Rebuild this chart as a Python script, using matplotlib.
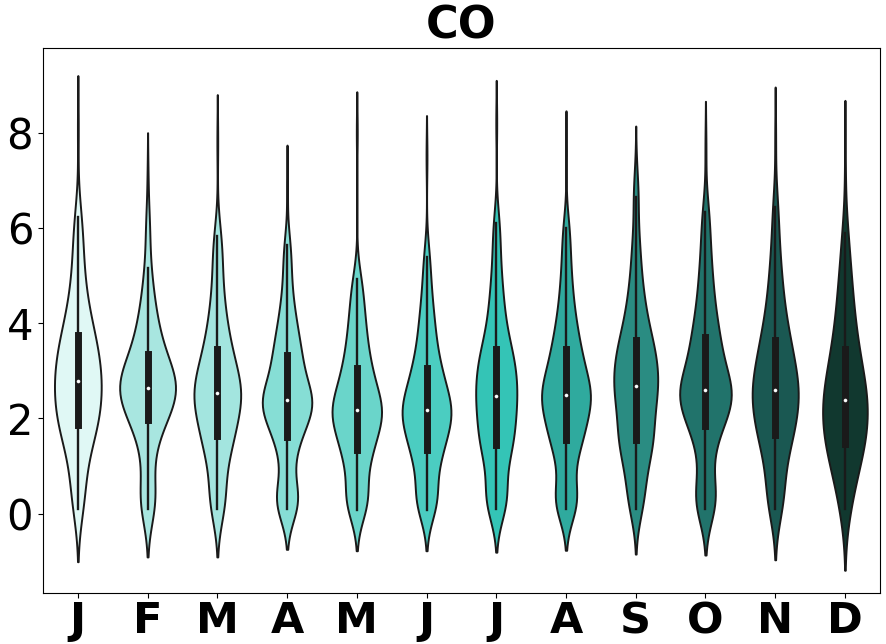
#CO monthly violins

#import
import numpy as np
import pandas as pd
import seaborn as sns
import matplotlib
matplotlib.use("Agg")
import matplotlib.pyplot as plt

month_labels = ['J', 'F', 'M', 'A', 'M', 'J', 'J', 'A', 'S', 'O', 'N', 'D']

# hand read CO values per month (sorted quantile points, last one = single max outlier)
co_jan = [0.09, 0.3, 0.6, 0.9, 1.2, 1.4, 1.55, 1.7, 1.8, 1.86,
          1.95, 2.05, 2.15, 2.25, 2.35, 2.45, 2.55, 2.62, 2.7, 2.78,
          2.85, 2.95, 3.05, 3.15, 3.25, 3.35, 3.45, 3.55, 3.65, 3.75,
          3.9, 4.05, 4.25, 4.45, 4.7, 5.0, 5.4, 5.8, 6.23, 8.1]
co_feb = [0.09, 0.2, 0.3, 0.45, 0.9, 1.3, 1.55, 1.75, 1.88, 1.96,
          2.05, 2.15, 2.25, 2.33, 2.4, 2.46, 2.52, 2.57, 2.61, 2.64,
          2.67, 2.72, 2.78, 2.85, 2.92, 3.0, 3.08, 3.17, 3.26, 3.35,
          3.5, 3.65, 3.8, 3.95, 4.15, 4.4, 4.7, 5.15, 6.0, 7.0]
co_mar = [0.09, 0.2, 0.3, 0.5, 0.9, 1.15, 1.3, 1.45, 1.55, 1.62,
          1.72, 1.85, 1.97, 2.08, 2.18, 2.27, 2.35, 2.42, 2.48, 2.53,
          2.56, 2.62, 2.7, 2.8, 2.9, 3.0, 3.1, 3.2, 3.32, 3.45,
          3.6, 3.75, 3.95, 4.15, 4.4, 4.7, 5.1, 5.5, 5.83, 7.8]
co_apr = [0.09, 0.15, 0.22, 0.28, 0.4, 0.65, 1.0, 1.3, 1.5, 1.6,
          1.72, 1.84, 1.95, 2.05, 2.13, 2.2, 2.26, 2.31, 2.35, 2.38,
          2.41, 2.47, 2.55, 2.65, 2.77, 2.9, 3.02, 3.13, 3.24, 3.34,
          3.48, 3.62, 3.78, 3.95, 4.15, 4.4, 4.75, 5.2, 5.64, 6.9]
co_may = [0.08, 0.18, 0.25, 0.32, 0.45, 0.75, 1.0, 1.15, 1.27, 1.34,
          1.45, 1.57, 1.68, 1.78, 1.87, 1.95, 2.02, 2.08, 2.13, 2.17,
          2.2, 2.26, 2.34, 2.43, 2.53, 2.63, 2.73, 2.84, 2.95, 3.05,
          3.2, 3.35, 3.52, 3.7, 3.9, 4.1, 4.35, 4.65, 4.92, 8.0]
co_jun = [0.08, 0.18, 0.26, 0.34, 0.5, 0.8, 1.02, 1.17, 1.27, 1.34,
          1.45, 1.56, 1.67, 1.77, 1.86, 1.94, 2.01, 2.07, 2.12, 2.17,
          2.2, 2.27, 2.35, 2.44, 2.54, 2.64, 2.74, 2.85, 2.95, 3.05,
          3.2, 3.37, 3.55, 3.75, 3.97, 4.2, 4.5, 4.9, 5.4, 7.5]
co_jul = [0.09, 0.18, 0.26, 0.35, 0.55, 0.85, 1.1, 1.25, 1.37, 1.45,
          1.55, 1.66, 1.77, 1.88, 1.99, 2.1, 2.2, 2.3, 2.4, 2.48,
          2.55, 2.65, 2.75, 2.85, 2.95, 3.05, 3.15, 3.25, 3.35, 3.45,
          3.6, 3.78, 3.98, 4.2, 4.45, 4.75, 5.1, 5.6, 6.1, 8.2]
co_aug = [0.09, 0.17, 0.24, 0.32, 0.48, 0.85, 1.15, 1.35, 1.47, 1.55,
          1.66, 1.78, 1.9, 2.0, 2.1, 2.2, 2.28, 2.36, 2.43, 2.49,
          2.53, 2.6, 2.68, 2.77, 2.87, 2.98, 3.1, 3.22, 3.34, 3.45,
          3.6, 3.77, 3.95, 4.15, 4.4, 4.7, 5.05, 5.5, 6.0, 7.6]
co_sep = [0.09, 0.25, 0.45, 0.7, 0.95, 1.15, 1.3, 1.42, 1.5, 1.55,
          1.68, 1.82, 1.95, 2.08, 2.2, 2.32, 2.43, 2.53, 2.62, 2.69,
          2.75, 2.85, 2.95, 3.05, 3.15, 3.25, 3.35, 3.45, 3.55, 3.64,
          3.8, 3.97, 4.15, 4.35, 4.6, 4.9, 5.3, 5.8, 6.65, 7.2]
co_oct = [0.09, 0.18, 0.26, 0.35, 0.55, 0.95, 1.3, 1.55, 1.72, 1.84,
          1.95, 2.06, 2.16, 2.25, 2.33, 2.4, 2.46, 2.51, 2.56, 2.6,
          2.65, 2.73, 2.83, 2.95, 3.08, 3.2, 3.33, 3.46, 3.59, 3.72,
          3.88, 4.05, 4.25, 4.5, 4.75, 5.05, 5.4, 5.85, 6.34, 7.7]
co_nov = [0.09, 0.22, 0.38, 0.6, 0.9, 1.15, 1.35, 1.5, 1.6, 1.66,
          1.77, 1.89, 2.0, 2.11, 2.21, 2.3, 2.39, 2.47, 2.54, 2.6,
          2.66, 2.75, 2.85, 2.96, 3.07, 3.18, 3.3, 3.41, 3.53, 3.64,
          3.8, 3.97, 4.17, 4.4, 4.65, 4.95, 5.3, 5.8, 6.44, 7.9]
co_dec = [0.09, 0.3, 0.55, 0.8, 1.0, 1.15, 1.27, 1.36, 1.42, 1.46,
          1.56, 1.67, 1.78, 1.88, 1.98, 2.08, 2.17, 2.25, 2.32, 2.38,
          2.42, 2.5, 2.6, 2.71, 2.83, 2.95, 3.07, 3.19, 3.32, 3.45,
          3.62, 3.8, 4.0, 4.22, 4.46, 4.72, 5.0, 5.4, 5.9, 7.4]

# style per violin
month_colors = ['#e0f8f5', '#a8e6e0', '#a3e5df', '#86ded5', '#6ad5ca', '#4bcdc1',
                '#34c4b6', '#2faa9e', '#2a8c82', '#21736b', '#1a5852', '#11382f']
kde_bw = [0.55, 0.50, 0.50, 0.42, 0.43, 0.43, 0.45, 0.43, 0.47, 0.48, 0.53, 0.64]
violin_w = [0.67, 0.80, 0.67, 0.71, 0.71, 0.70, 0.59, 0.70, 0.63, 0.74, 0.66, 0.64]


def main():
    all_months = [co_jan, co_feb, co_mar, co_apr, co_may, co_jun,
                  co_jul, co_aug, co_sep, co_oct, co_nov, co_dec]
    keys = ['m%d' % (i + 1) for i in range(12)]

    fig = plt.figure(figsize=(8.86, 6.44), dpi=100)
    ax = fig.add_subplot(111)
    fig.subplots_adjust(left=0.0485, right=0.993, top=0.9255, bottom=0.079)

    for i, vals in enumerate(all_months):
        # quantile points weigh 4, the single max weighs 1
        counts = [4] * (len(vals) - 1) + [1]
        v = np.repeat(vals, counts)
        df = pd.DataFrame({'month': keys[i], 'co': v})
        sns.violinplot(data=df, x='month', y='co', order=keys,
                       color=month_colors[i], saturation=1,
                       bw_method=kde_bw[i] / np.std(v, ddof=1), cut=2,
                       width=violin_w[i], linewidth=1.4, linecolor='#1a1a1a',
                       inner='box',
                       inner_kws=dict(box_width=5, whis_width=1.7,
                                      color='#1a1a1a', marker='o',
                                      markersize=2.2, markeredgewidth=0.4),
                       ax=ax)

    ax.set_xlim(-0.5, 11.5)
    ax.set_ylim(-1.67, 9.78)
    ax.set_xticks(range(12))
    ax.set_xticklabels(month_labels, fontsize=31, fontweight='bold')
    ax.tick_params(axis='x', pad=1.5)
    ax.set_yticks([0, 2, 4, 6, 8])
    ax.tick_params(axis='y', labelsize=30)
    ax.set_xlabel('')
    ax.set_ylabel('')
    ax.set_title('CO', fontsize=32, fontweight='bold')
    fig.savefig('out.png')


main()
